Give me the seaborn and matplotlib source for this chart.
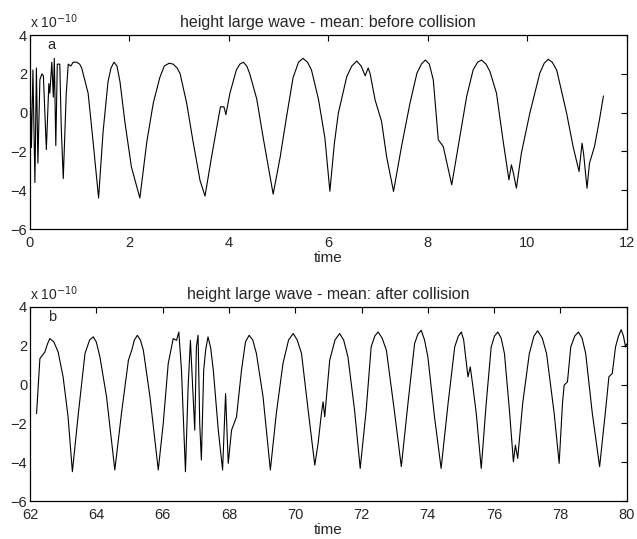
import matplotlib
matplotlib.use("Agg")
import matplotlib.pyplot as plt
import seaborn as sns

# --- data (height in units of 1e-10) ---
before_t = [0.00, 0.03, 0.06, 0.10, 0.13, 0.16, 0.20, 0.24, 0.27, 0.33, 0.38, 0.40, 0.44, 0.47, 0.49,
            0.52, 0.55, 0.60, 0.63, 0.67, 0.73, 0.77, 0.82, 0.87, 0.94, 1.00, 1.04, 1.10, 1.17, 1.27,
            1.38, 1.47, 1.57, 1.63, 1.69, 1.75, 1.81, 1.91, 2.04, 2.21, 2.35, 2.48, 2.61, 2.70, 2.80,
            2.88, 2.96, 3.02, 3.15, 3.28, 3.42, 3.52, 3.65, 3.79, 3.83, 3.90, 3.94, 4.02, 4.15, 4.22,
            4.29, 4.36, 4.42, 4.56, 4.69, 4.89, 5.03, 5.16, 5.29, 5.40, 5.49, 5.58, 5.66, 5.80, 5.93,
            6.03, 6.12, 6.20, 6.37, 6.47, 6.57, 6.66, 6.74, 6.80, 6.84, 6.94, 7.07, 7.17, 7.31, 7.47,
            7.64, 7.78, 7.87, 7.95, 8.03, 8.11, 8.21, 8.31, 8.48, 8.61, 8.78, 8.91, 9.00, 9.08, 9.17,
            9.25, 9.38, 9.51, 9.63, 9.68, 9.72, 9.78, 9.88, 10.05, 10.25, 10.34, 10.42, 10.50, 10.59,
            10.79, 10.92, 11.04, 11.10, 11.13, 11.20, 11.25, 11.35, 11.45, 11.53]
before_h = [2.4, -1.8, 2.2, -3.6, 2.3, -2.6, 1.7, 2.0, 1.9, -1.9, 1.5, 1.0, 2.6, 0.8, 2.8,
            -1.7, 2.5, 2.5, -0.8, -3.4, 1.0, 2.5, 2.4, 2.6, 2.6, 2.5, 2.3, 1.7, 1.0, -1.5,
            -4.4, -1.0, 1.6, 2.3, 2.6, 2.4, 1.6, -0.5, -2.8, -4.4, -1.5, 0.5, 1.8, 2.4, 2.55,
            2.5, 2.3, 2.0, 0.5, -1.5, -3.5, -4.3, -2.3, -0.3, 0.3, 0.3, -0.1, 1.0, 2.2, 2.5,
            2.6, 2.4, 2.0, 0.7, -1.3, -4.2, -2.3, -0.2, 1.8, 2.6, 2.8, 2.6, 2.2, 0.7, -1.3,
            -4.05, -1.6, -0.03, 1.86, 2.4, 2.66, 2.4, 1.9, 2.3, 2.0, 0.65, -0.46, -2.26, -4.06, -1.75,
            0.48, 2.03, 2.5, 2.71, 2.5, 1.68, -1.4, -1.75, -3.72, -1.75, 0.83, 2.2, 2.6, 2.71, 2.5,
            2.11, 1.0, -1.4, -3.46, -2.69, -3.12, -3.89, -2.09, -0.03, 2.03, 2.55, 2.75, 2.6, 2.2,
            -0.03, -1.75, -3.03, -1.58, -2.09, -3.89, -2.6, -1.75, -0.37, 0.86]

after_t = [62.20, 62.30, 62.45, 62.53, 62.60, 62.72, 62.85, 63.00, 63.15, 63.28, 63.46, 63.66, 63.80,
           63.91, 64.00, 64.11, 64.31, 64.56, 64.76, 64.97, 65.07, 65.15, 65.24, 65.33, 65.42, 65.62,
           65.87, 66.02, 66.17, 66.32, 66.42, 66.49, 66.57, 66.69, 66.77, 66.84, 66.92, 66.97, 67.02,
           67.07, 67.12, 67.17, 67.24, 67.30, 67.37, 67.45, 67.53, 67.68, 67.81, 67.90, 67.98, 68.08,
           68.23, 68.38, 68.50, 68.61, 68.72, 68.83, 69.03, 69.25, 69.43, 69.63, 69.80, 69.94, 70.06,
           70.19, 70.39, 70.59, 70.69, 70.79, 70.84, 70.89, 71.04, 71.20, 71.34, 71.46, 71.59, 71.79,
           71.96, 72.14, 72.29, 72.40, 72.50, 72.62, 72.75, 73.00, 73.20, 73.40, 73.60, 73.70, 73.80,
           73.90, 74.00, 74.20, 74.40, 74.61, 74.81, 74.92, 75.01, 75.08, 75.14, 75.21, 75.28, 75.36,
           75.46, 75.61, 75.76, 75.91, 76.01, 76.11, 76.21, 76.31, 76.46, 76.58, 76.64, 76.71, 76.86,
           77.06, 77.20, 77.31, 77.45, 77.58, 77.81, 77.96, 78.06, 78.11, 78.21, 78.31, 78.43, 78.54,
           78.65, 78.76, 78.96, 79.18, 79.36, 79.46, 79.56, 79.66, 79.75, 79.83, 79.90, 79.96, 80.00]
after_h = [-1.49, 1.34, 1.68, 2.1, 2.37, 2.2, 1.68, 0.4, -1.66, -4.49, -1.49, 1.6, 2.3,
           2.46, 2.2, 1.43, -0.63, -4.4, -1.49, 1.26, 1.77, 2.3, 2.54, 2.3, 1.77, -0.63,
           -4.4, -2.0, 1.08, 2.37, 2.28, 2.71, 0.74, -4.49, -0.12, 2.28, -0.63, -2.35, 1.94,
           2.54, -2.0, -3.89, 0.74, 1.8, 2.46, 1.9, 0.74, -2.35, -4.4, -0.46, -4.06, -2.35,
           -1.66, 0.74, 2.2, 2.54, 2.3, 1.6, -0.63, -4.4, -1.49, 1.08, 2.3, 2.63, 2.3,
           1.6, -1.32, -4.15, -3.03, -1.49, -0.89, -1.66, 1.26, 2.3, 2.63, 2.3, 1.43, -1.32,
           -4.32, -1.32, 1.94, 2.5, 2.71, 2.4, 1.77, -1.49, -4.23, -0.97, 2.11, 2.6, 2.8,
           2.3, 1.43, -1.66, -4.32, -0.97, 1.94, 2.5, 2.71, 2.3, 1.43, 0.4, 0.91, -0.12,
           -1.49, -4.32, -0.97, 1.94, 2.5, 2.71, 2.4, 1.6, -1.32, -3.98, -3.12, -3.8, -0.97,
           1.6, 2.5, 2.77, 2.4, 1.6, -1.49, -4.06, -0.97, -0.03, 0.14, 1.94, 2.5, 2.71,
           2.4, 1.6, -1.49, -4.23, -1.32, 0.4, 0.57, 1.94, 2.5, 2.83, 2.5, 1.94, 2.1]

sns.set_theme(style="white")
plt.rcParams["font.family"] = ["Liberation Sans", "DejaVu Sans"]

fig = plt.figure(figsize=(6.37, 5.39), dpi=100)
ax1 = fig.add_axes([0.047, 0.575, 0.937, 0.36])
ax2 = fig.add_axes([0.047, 0.0705, 0.937, 0.36])

panels = [
    (ax1, before_t, before_h, (0, 12), "height large wave - mean: before collision", "a", 0.35),
    (ax2, after_t, after_h, (62, 80), "height large wave - mean: after collision", "b", 62.55),
]
for ax, t, h, xlim, title, tag, tag_x in panels:
    sns.lineplot(x=t, y=h, ax=ax, color="black", linewidth=0.8)
    ax.set_xlim(*xlim)
    ax.set_ylim(-6, 4)
    ax.set_yticks([-6, -4, -2, 0, 2, 4])
    ax.set_title(title, fontsize=11.5, pad=6)
    ax.set_xlabel("time", fontsize=11, labelpad=1)
    ax.set_ylabel("")
    ax.tick_params(direction="in", length=4, width=0.8, top=True, right=True,
                   labelsize=10.5, color="black")
    ax.tick_params(axis="x", pad=5)
    ax.tick_params(axis="y", pad=2)
    for s in ax.spines.values():
        s.set_color("black")
        s.set_linewidth(0.9)
    ax.text(tag_x, 3.3, tag, fontsize=10.5)
    ax.text(0.0, 1.02, r"x 10$^{-10}$", transform=ax.transAxes, fontsize=10, va="bottom")

fig.savefig("out.png", dpi=100)
